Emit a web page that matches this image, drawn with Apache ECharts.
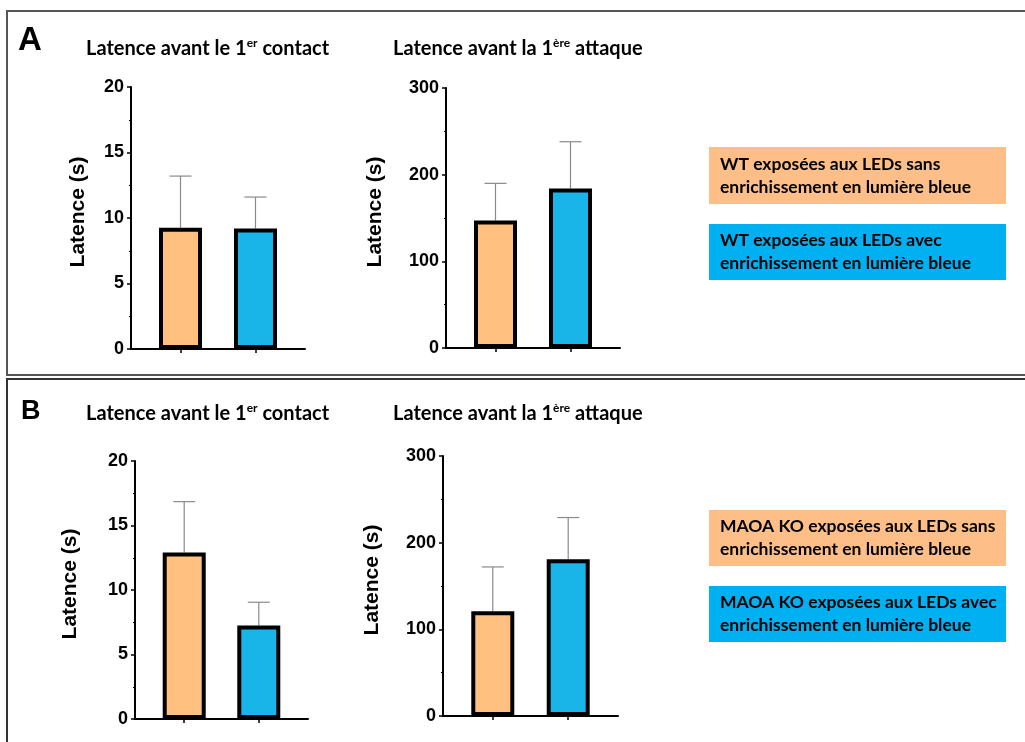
<!DOCTYPE html>
<html><head><meta charset="utf-8">
<script src="https://cdn.jsdelivr.net/npm/echarts@6/dist/echarts.min.js"></script>
<style>html,body{margin:0;padding:0;background:#fff}#c{width:1025px;height:742px}</style>
</head><body><div id="c"></div>
<script>
// ---- data ----
const groups = ['LEDs sans enrichissement', 'LEDs avec enrichissement'];
const groupPos = [0, 1];
const groupColors = ['#FFC080', '#19B4E8'];
const legendColors = ['#FDBF87', '#00B0F0'];
const contactA_mean = [9.25, 9.2];
const contactA_err = [3.95, 2.4];
const attackA_mean = [147, 184];
const attackA_err = [43, 54];
const contactB_mean = [12.9, 7.25];
const contactB_err = [3.95, 1.8];
const attackB_mean = [121, 181];
const attackB_err = [51, 48];
const contactTicks = [0, 5, 10, 15, 20];
const attackTicks = [0, 100, 200, 300];
const yName = 'Latence (s)';
const titleContact = ['Latence avant le 1', 'er', ' contact'];
const titleAttack = ['Latence avant la 1', 'ère', ' attaque'];
const legendA = ['WT exposées aux LEDs sans\nenrichissement en lumière bleue', 'WT exposées aux LEDs avec\nenrichissement en lumière bleue'];
const legendB = ['MAOA KO exposées aux LEDs sans\nenrichissement en lumière bleue', 'MAOA KO exposées aux LEDs avec\nenrichissement en lumière bleue'];

// ---- layout ----
const grids = [
  {left: 131, top: 87, width: 174, height: 262},
  {left: 446, top: 88, width: 174, height: 260},
  {left: 135, top: 461, width: 173, height: 258},
  {left: 443, top: 456, width: 175, height: 260}
];
const panels = [
  {mean: contactA_mean, err: contactA_err, ticks: contactTicks, gap: 42},
  {mean: attackA_mean, err: attackA_err, ticks: attackTicks, gap: 60},
  {mean: contactB_mean, err: contactB_err, ticks: contactTicks, gap: 54},
  {mean: attackB_mean, err: attackB_err, ticks: attackTicks, gap: 60}
];
const AX = 'Liberation Sans, Arial, sans-serif';
const TX = 'Lato, sans-serif';

const xAxes = [], yAxes = [], series = [];
panels.forEach((p, i) => {
  xAxes.push({
    gridIndex: i, type: 'value', min: -0.66, max: 1.66,
    axisLine: {show: true, onZero: false, lineStyle: {color: '#000', width: 2}},
    axisTick: {show: true, customValues: groupPos, length: 4, inside: false, lineStyle: {color: '#000', width: 1.5}},
    axisLabel: {show: false}, splitLine: {show: false}
  });
  const t = p.ticks;
  yAxes.push({
    gridIndex: i, type: 'value', min: t[0], max: t[t.length - 1], interval: t[1] - t[0],
    axisLine: {show: true, onZero: false, lineStyle: {color: '#000', width: 2}},
    axisTick: {show: true, length: 4, lineStyle: {color: '#000', width: 1.5}},
    minorTick: {show: true, splitNumber: 2, length: 2, lineStyle: {color: '#000', width: 1.2}},
    axisLabel: {color: '#000', fontFamily: AX, fontWeight: 'bold', fontSize: 18, margin: 7},
    splitLine: {show: false},
    name: yName, nameLocation: 'middle', nameGap: p.gap,
    nameTextStyle: {color: '#000', fontFamily: AX, fontWeight: 'bold', fontSize: 21, padding: [0, 0, 0, 12]}
  });
  series.push({
    type: 'bar', xAxisIndex: i, yAxisIndex: i, barWidth: 43, z: 3,
    data: p.mean.map((v, k) => ({value: [groupPos[k], v], itemStyle: {color: groupColors[k]}})),
    itemStyle: {borderColor: '#000', borderWidth: 4}
  });
  series.push({
    type: 'custom', xAxisIndex: i, yAxisIndex: i, z: 2,
    data: p.mean.map((v, k) => [groupPos[k], v, v + p.err[k]]),
    renderItem: (params, api) => {
      const a = api.coord([api.value(0), api.value(1)]);
      const b = api.coord([api.value(0), api.value(2)]);
      const st = {stroke: '#8a8a8a', lineWidth: 1.2};
      return {type: 'group', children: [
        {type: 'line', shape: {x1: a[0], y1: a[1], x2: b[0], y2: b[1]}, style: st},
        {type: 'line', shape: {x1: b[0] - 11, y1: b[1], x2: b[0] + 11, y2: b[1]}, style: st}
      ]};
    }
  });
});

function title(parts, x, y) {
  return {
    type: 'text', x: x, y: y, z: 10,
    style: {
      text: '{a|' + parts[0] + '}{s|' + parts[1] + '}{a|' + parts[2] + '}',
      verticalAlign: 'middle', fill: '#000',
      rich: {
        a: {fontFamily: TX, fontWeight: 'bold', fontSize: 20, fill: '#000', lineHeight: 24},
        s: {fontFamily: TX, fontWeight: 'bold', fontSize: 12, fill: '#000', lineHeight: 24, verticalAlign: 'top', padding: [0, 0, 9, 0]}
      }
    }
  };
}
function legendBox(text, color, x, y, w, h) {
  return [
    {type: 'rect', shape: {x: x, y: y, width: w, height: h}, style: {fill: color}, z: 1},
    {type: 'text', x: x + 11, y: y + h / 2, z: 2,
     style: {text: text, fontFamily: TX, fontWeight: 'bold', fontSize: 17.5, lineHeight: 23, fill: '#000', verticalAlign: 'middle'}}
  ];
}

const graphic = [
  {type: 'rect', shape: {x: 7, y: 11, width: 1030, height: 364}, style: {fill: 'none', stroke: '#555', lineWidth: 2}, z: 0},
  {type: 'rect', shape: {x: 7, y: 379, width: 1030, height: 400}, style: {fill: 'none', stroke: '#333', lineWidth: 2}, z: 0},
  {type: 'text', x: 18, y: 41, style: {text: 'A', fontFamily: AX, fontWeight: 'bold', fontSize: 33, fill: '#000', verticalAlign: 'middle'}},
  {type: 'text', x: 21, y: 412, style: {text: 'B', fontFamily: AX, fontWeight: 'bold', fontSize: 27, fill: '#000', verticalAlign: 'middle'}},
  title(titleContact, 86, 49),
  title(titleAttack, 393, 49),
  title(titleContact, 86, 414),
  title(titleAttack, 393, 414),
  ...legendBox(legendA[0], legendColors[0], 709, 147, 297, 57),
  ...legendBox(legendA[1], legendColors[1], 709, 224, 297, 56),
  ...legendBox(legendB[0], legendColors[0], 709, 510, 297, 56),
  ...legendBox(legendB[1], legendColors[1], 709, 586, 297, 56)
];

const chart = echarts.init(document.getElementById('c'), null, {renderer: 'canvas'});
chart.setOption({
  backgroundColor: '#fff',
  animation: false,
  grid: grids.map(g => Object.assign({containLabel: false}, g)),
  xAxis: xAxes, yAxis: yAxes, series: series, graphic: graphic
});
</script></body></html>
